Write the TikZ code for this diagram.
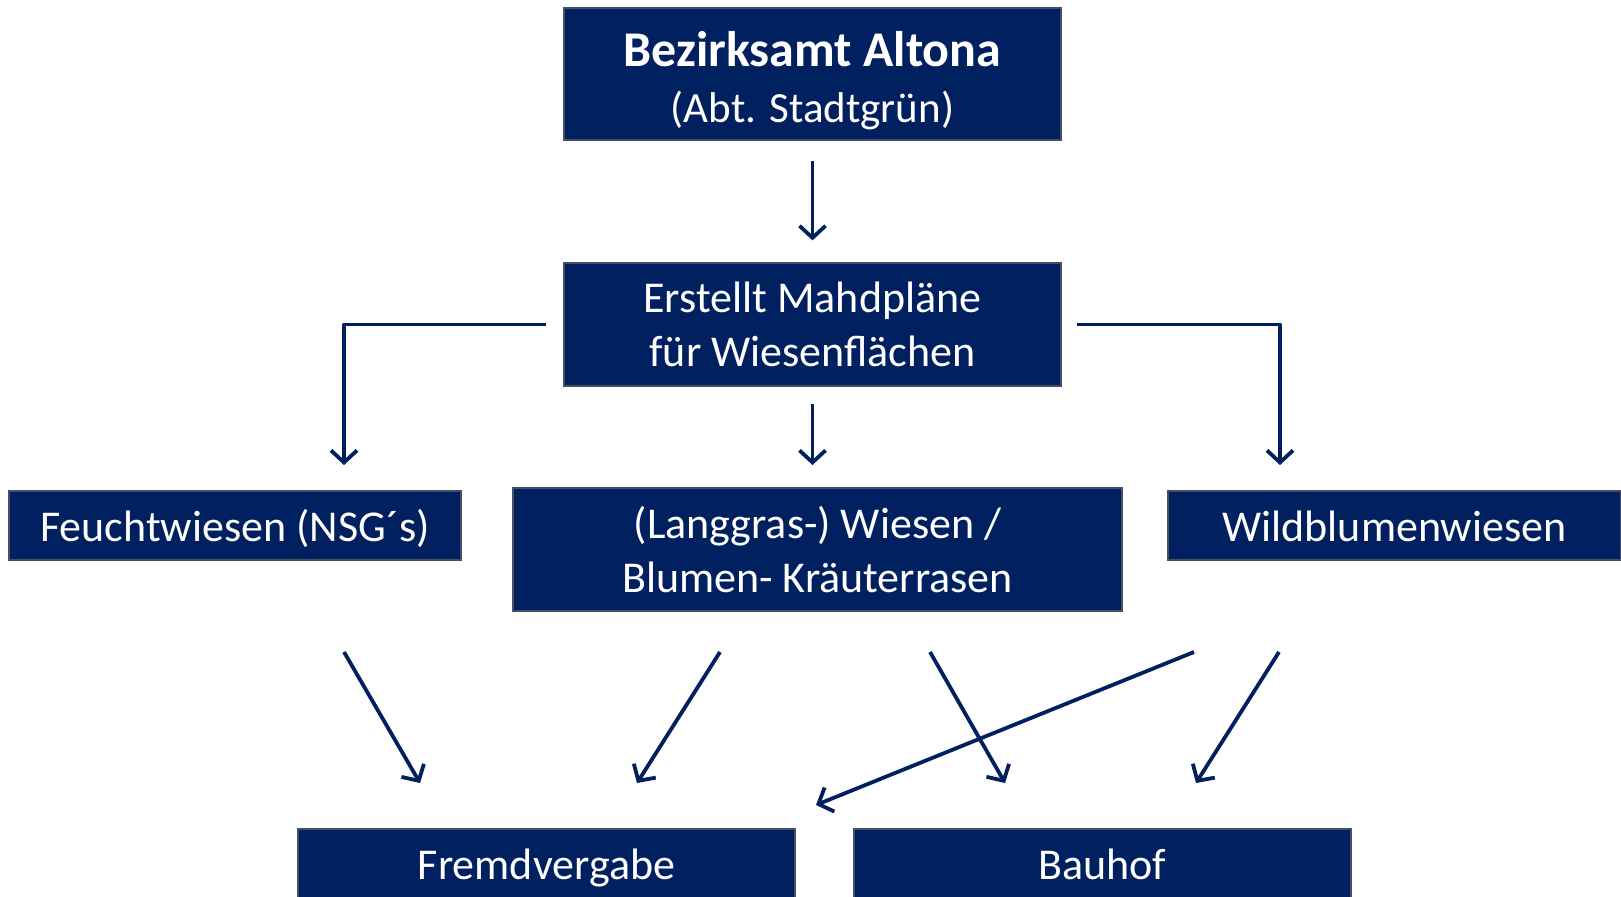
\documentclass[tikz,border=0pt]{standalone}
\usepackage{fontspec}
\setmainfont{Carlito}
\usetikzlibrary{arrows.meta}

\definecolor{navy}{RGB}{0,32,96}
\definecolor{rim}{RGB}{70,80,100}

\newcommand\zs{\rule[-6.5pt]{0pt}{28.5pt}}

\tikzset{
  box/.style={draw=rim, line width=0.6pt, fill=navy, text=white, align=center,
    inner sep=0pt, font=\fontsize{22}{27}\selectfont},
  pfeil/.style={draw=navy, line width=1.9pt, line join=round,
    -{Straight Barb[length=6pt,width=13pt]}}
}

\begin{document}
\begin{tikzpicture}[x=0.5pt,y=-0.5pt]

\useasboundingbox (0,0) rectangle (1621,897);
\clip (0,0) rectangle (1621,897);

% boxes
\node[box, minimum width=248.5pt, minimum height=66pt] (amt) at (812.5,74)
  {{\fontsize{25}{30}\selectfont\rule{0pt}{24pt}\textbf{Bezirksamt Altona}}\\[1pt]
   {\fontsize{21.5}{27}\selectfont(Abt. Stadtgrün)}};
\node[box, minimum width=248.5pt, minimum height=61.5pt] (plan) at (812.5,324.5)
  {Erstellt Mahdpläne\\für Wiesenflächen};
\node[box, minimum width=226pt, minimum height=34.5pt] (feucht) at (235,525.5)
  {\zs Feuchtwiesen (NSG´s)};
\node[box, minimum width=304.5pt, minimum height=61.5pt] (lang) at (817.5,549.5)
  {(Langgras-) Wiesen /\\Blumen- Kräuterrasen};
\node[box, minimum width=226.5pt, minimum height=34.5pt] (wild) at (1394.5,525.5)
  {\zs Wildblumenwiesen};
\node[box, minimum width=248.5pt, minimum height=34.5pt] (fremd) at (546.5,863.5)
  {\zs Fremdvergabe};
\node[box, minimum width=248.5pt, minimum height=34.5pt] (bauhof) at (1102.5,863.5)
  {\zs Bauhof};

% free arrow ends
\coordinate (fk) at (344,465);
\coordinate (mk) at (812.5,465);
\coordinate (wk) at (1280,465);
\coordinate (a1s) at (344,652);  \coordinate (a1e) at (420,783);
\coordinate (a2s) at (720,652);  \coordinate (a2e) at (637,783);
\coordinate (a3s) at (930,652);  \coordinate (a3e) at (1005,783);
\coordinate (a4s) at (1194,652); \coordinate (a4e) at (816,805);
\coordinate (a5s) at (1279,652); \coordinate (a5e) at (1196,783);

% arrows
\draw[pfeil] ([yshift=-10pt]amt.south) -- ([yshift=11pt]plan.north);
\draw[pfeil] ([xshift=-8.5pt]plan.west) -| (fk);
\draw[pfeil] ([xshift=7.5pt]plan.east) -| (wk);
\draw[pfeil] ([yshift=-8.5pt]plan.south) -- (mk);

\draw[pfeil] (a1s) -- (a1e);
\draw[pfeil] (a2s) -- (a2e);
\draw[pfeil] (a3s) -- (a3e);
\draw[pfeil] (a4s) -- (a4e);
\draw[pfeil] (a5s) -- (a5e);

\end{tikzpicture}
\end{document}
